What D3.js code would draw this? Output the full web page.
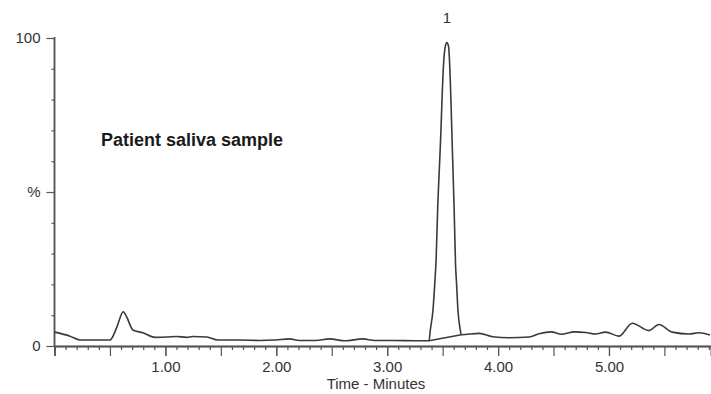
<!DOCTYPE html>
<html lang="en">
<head>
<meta charset="UTF-8">
<title>Chromatogram</title>
<style>
  body { margin: 0; background: #fff; }
  svg { display: block; font-family: "Liberation Sans", Arial, sans-serif; }
</style>
</head>
<body>
<svg width="711" height="394" id="svg"></svg>
<script src="https://d3js.org/d3.v7.min.js"></script>
<script>
// retention time (minutes) and relative signal (%)
const traceTime = [0, 0.14, 0.23, 0.5, 0.518, 0.563, 0.62, 0.65, 0.707, 0.797, 0.905, 1.014, 1.10, 1.19, 1.248, 1.374, 1.473, 1.671,
  1.85, 1.99, 2.12, 2.21, 2.35, 2.48, 2.62, 2.78, 2.89, 3.07, 3.25, 3.377,
  3.389, 3.413, 3.431, 3.441, 3.455, 3.479, 3.509, 3.523, 3.539, 3.554, 3.563, 3.587, 3.604, 3.617, 3.624, 3.638, 3.659, 3.668,
  3.83, 3.95, 4.10, 4.28, 4.37, 4.48, 4.57, 4.69, 4.79, 4.88, 4.97, 5.09, 5.21, 5.36, 5.45, 5.57, 5.72, 5.81, 5.91]
const traceSignal = [4.5, 3.2, 1.95, 1.95, 2.6, 6.2, 11.1, 9.5, 5.2, 4.3, 2.8, 2.9, 3.1, 2.8, 3.1, 2.9, 1.95, 1.95,
  1.8, 1.95, 2.3, 1.8, 1.8, 2.3, 1.7, 2.3, 1.8, 1.8, 1.7, 1.72,
  5.2, 11.7, 21.4, 27.9, 44.2, 64.7, 91.9, 97.1, 98.5, 97.1, 91.9, 64.7, 44.2, 25.7, 21.4, 11.7, 5.2, 3.67,
  4.1, 3.0, 2.7, 2.9, 4.0, 4.6, 3.8, 4.6, 4.4, 3.9, 4.5, 3.2, 7.4, 5.0, 7.0, 4.5, 3.9, 4.3, 3.6]
// integration baseline under peak 1
const baseTime = [3.377, 3.668]
const baseSignal = [1.72, 3.67]
const peakLabels = [{ name: "1", time: 3.539, signal: 98.5 }]
const xTickLabels = [1, 2, 3, 4, 5]
const yTickLabels = [{ v: 0, t: "0" }, { v: 50, t: "%" }, { v: 100, t: "100" }]

const svg = d3.select("svg#svg")
const xScale = d3.scaleLinear().domain([0, 5.92]).range([54.5, 711])
const yScale = d3.scaleLinear().domain([0, 100]).range([346, 38])

const axisColor = "#555"
const textColor = "#333"

// x axis: minor ticks every 0.1, longer at half minutes, labels on whole minutes
const minor = d3.range(1, 60).map(i => i / 10).filter(v => Math.round(v * 10) % 5 !== 0)
const halves = d3.range(1, 12).map(i => i / 2)
const gx = svg.append("g").attr("transform", `translate(0,${yScale(0)})`)
gx.append("g").call(d3.axisBottom(xScale).tickValues(minor).tickSize(4).tickFormat(""))
gx.append("g").call(d3.axisBottom(xScale).tickValues(halves).tickSize(10).tickFormat(""))
gx.append("g").call(d3.axisBottom(xScale).tickValues(xTickLabels).tickSize(10).tickPadding(5).tickFormat(d3.format(".2f")))
gx.selectAll("path.domain").attr("stroke", axisColor).attr("stroke-width", 1.5)
gx.selectAll(".tick line").attr("stroke", axisColor).attr("stroke-width", 1.2)
gx.selectAll(".tick text").attr("fill", textColor).style("font-size", "15px")

svg.append("text")
  .attr("x", 376).attr("y", 389)
  .attr("text-anchor", "middle")
  .attr("fill", textColor)
  .style("font-size", "15px")
  .text("Time - Minutes")

// y axis
const gy = svg.append("g").attr("transform", `translate(${xScale(0)},0)`)
gy.append("g").call(d3.axisLeft(yScale).tickValues(d3.range(10, 100, 10).filter(v => v !== 50)).tickSize(3).tickFormat(""))
gy.append("g").call(d3.axisLeft(yScale).tickValues(yTickLabels.map(d => d.v)).tickSize(8).tickPadding(6)
  .tickFormat(v => yTickLabels.find(d => d.v === v).t))
gy.selectAll("path.domain").attr("stroke", axisColor).attr("stroke-width", 1.5).attr("d", `M0,${yScale(100) - 1}V${yScale(0)}`)
gy.selectAll(".tick line").attr("stroke", axisColor).attr("stroke-width", 1.2)
gy.selectAll(".tick text").attr("fill", textColor).style("font-size", "15px")

// trace
const trace = traceTime.map((t, i) => [t, traceSignal[i]])
const line = d3.line().x(d => xScale(d[0])).y(d => yScale(d[1])).curve(d3.curveMonotoneX)
svg.append("path")
  .datum(trace)
  .attr("fill", "none")
  .attr("stroke", "#3a3a3a")
  .attr("stroke-width", 1.6)
  .attr("stroke-linejoin", "round")
  .attr("d", line)

svg.append("path")
  .datum(baseTime.map((t, i) => [t, baseSignal[i]]))
  .attr("fill", "none")
  .attr("stroke", "#3a3a3a")
  .attr("stroke-width", 1.4)
  .attr("d", d3.line().x(d => xScale(d[0])).y(d => yScale(d[1])))

svg.selectAll("text.peak").data(peakLabels).join("text")
  .attr("class", "peak")
  .attr("x", d => xScale(d.time))
  .attr("y", 23)
  .attr("text-anchor", "middle")
  .attr("fill", textColor)
  .style("font-size", "15px")
  .text(d => d.name)

svg.append("text")
  .attr("x", 101).attr("y", 146)
  .attr("fill", "#1a1a1a")
  .style("font-size", "18px")
  .style("font-weight", "bold")
  .text("Patient saliva sample")
</script>
</body>
</html>
